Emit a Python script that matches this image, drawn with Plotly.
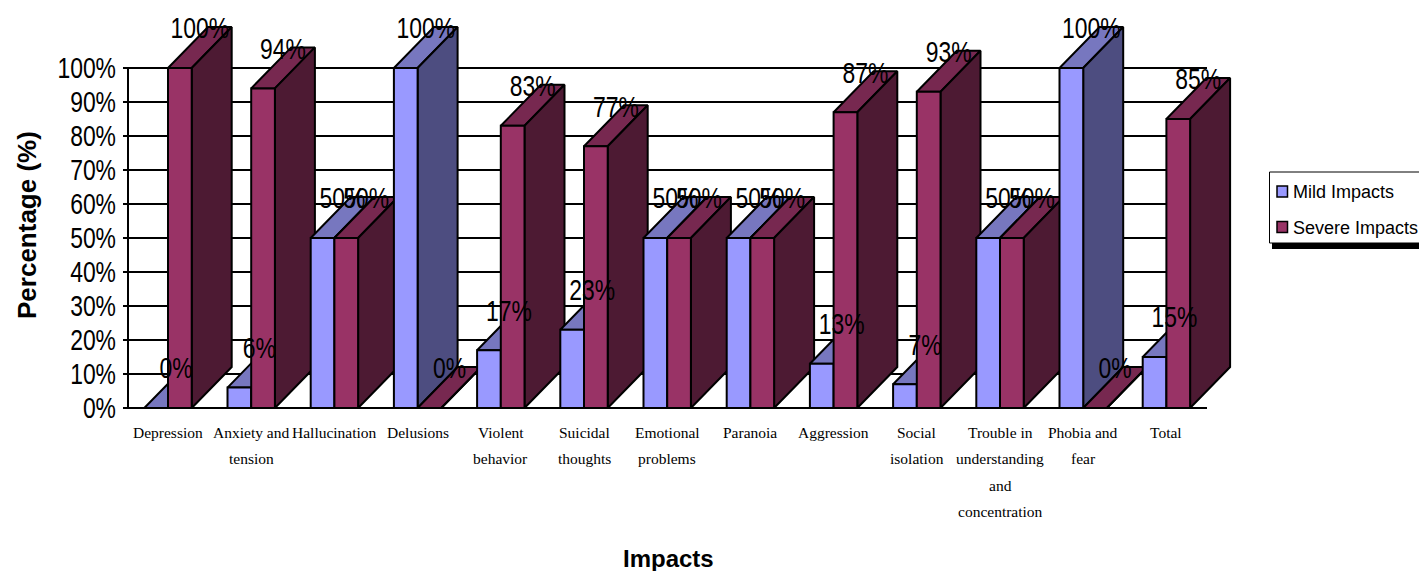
import plotly.graph_objects as go

categories = [
    "Depression", "Anxiety and\ntension", "Hallucination", "Delusions",
    "Violent\nbehavior", "Suicidal\nthoughts", "Emotional\nproblems",
    "Paranoia", "Aggression", "Social\nisolation",
    "Trouble in\nunderstanding\nand\nconcentration", "Phobia and\nfear", "Total",
]
mild_impacts = [0, 6, 50, 100, 17, 23, 50, 50, 13, 7, 50, 100, 15]
severe_impacts = [100, 94, 50, 0, 83, 77, 50, 50, 87, 93, 50, 0, 85]
y_ticks = [0, 10, 20, 30, 40, 50, 60, 70, 80, 90, 100]

# Page layout, in pixels
WIDTH, HEIGHT = 1419, 571
AXIS_LEFT, AXIS_RIGHT, Y100, Y0 = 128, 1207, 68, 408
AREA_LEFT, AREA_RIGHT, AREA_TOP, AREA_BOTTOM = 123, 1240, 0, 412
CATEGORY_PX = 83.2
FIRST_CENTRE_PX = 168
PX_PER_UNIT = (Y0 - Y100) / 100


def x_val(px):
    return (px - FIRST_CENTRE_PX) / CATEGORY_PX


def px_x(px):
    return (px - AREA_LEFT) / (AREA_RIGHT - AREA_LEFT)


def px_y(py):
    return (AREA_BOTTOM - py) / (AREA_BOTTOM - AREA_TOP)


# Extrusion and bar sizes, in axis units
BAR_W = 23.7 / CATEGORY_PX
DEPTH_X = 40 / CATEGORY_PX
DEPTH_Y = 41 / PX_PER_UNIT

SERIES = [
    dict(name="Mild Impacts", values=mild_impacts, offset=-1,
         front="#9999FF", top="#7777BF", side="#4D4D80"),
    dict(name="Severe Impacts", values=severe_impacts, offset=0,
         front="#993366", top="#772850", side="#4D1A33"),
]

EDGE = dict(color="black", width=2)


def face(xs, ys, colour, name):
    return go.Scatter(
        x=xs + xs[:1], y=ys + ys[:1], mode="lines", fill="toself", fillcolor=colour,
        line=EDGE, name=name, showlegend=False, hoverinfo="name",
    )


fig = go.Figure()

# Gridlines with their tick stubs, then the vertical axis line
grid_x, grid_y = [], []
for t in y_ticks:
    grid_x += [x_val(AREA_LEFT), x_val(AXIS_RIGHT), None]
    grid_y += [t, t, None]
fig.add_trace(go.Scatter(x=grid_x, y=grid_y, mode="lines", line=dict(color="black", width=2),
                         showlegend=False, hoverinfo="skip"))
fig.add_trace(go.Scatter(x=[x_val(AXIS_LEFT), x_val(AXIS_LEFT)], y=[0, 100], mode="lines",
                         line=dict(color="black", width=2), showlegend=False, hoverinfo="skip"))

# Painted left to right so nearer boxes overlap the ones before them
for i in range(len(categories)):
    for s in SERIES:
        v = s["values"][i]
        x0 = i + s["offset"] * BAR_W
        x1 = x0 + BAR_W
        fig.add_trace(face([x0, x1, x1 + DEPTH_X, x0 + DEPTH_X],
                           [v, v, v + DEPTH_Y, v + DEPTH_Y], s["top"], s["name"]))
        fig.add_trace(face([x1, x1 + DEPTH_X, x1 + DEPTH_X, x1],
                           [0, DEPTH_Y, v + DEPTH_Y, v], s["side"], s["name"]))
        fig.add_trace(face([x0, x1, x1, x0], [0, 0, v, v], s["front"], s["name"]))

# Value labels sit on top of every box
for s in SERIES:
    fig.add_trace(go.Scatter(
        x=[i + s["offset"] * BAR_W + BAR_W / 2 + DEPTH_X / 2 for i in range(len(categories))],
        y=[v + DEPTH_Y - 1.2 for v in s["values"]],
        mode="text", text=[f"{v}%" for v in s["values"]], textposition="middle center",
        textfont=dict(family="Liberation Sans", size=29, color="black"),
        showlegend=False, hoverinfo="skip",
    ))

annotations = []

# Category labels, one annotation per line for the wide line spacing
LINE_OFFSETS = [24, 50, 77, 103]
for i, label in enumerate(categories):
    for j, line in enumerate(label.split("\n")):
        annotations.append(dict(
            x=i, y=0, xref="x", yref="y", text=line, showarrow=False,
            xanchor="center", yanchor="middle", yshift=-LINE_OFFSETS[j],
            font=dict(family="Liberation Serif", size=15.5, color="black"),
        ))

annotations.append(dict(
    x=px_x(27), y=px_y(225), xref="paper", yref="paper", text="<b>Percentage (%)</b>",
    textangle=-90, showarrow=False, xanchor="center", yanchor="middle",
    font=dict(family="Liberation Sans", size=26, color="black"),
))
annotations.append(dict(
    x=px_x(668), y=px_y(558), xref="paper", yref="paper", text="<b>Impacts</b>",
    showarrow=False, xanchor="center", yanchor="middle",
    font=dict(family="Liberation Sans", size=24, color="black"),
))

# Key box with a drop shadow, running off the right edge of the page
shapes = [
    dict(type="rect", xref="paper", yref="paper", layer="above",
         x0=px_x(1272), x1=px_x(1440), y0=px_y(249), y1=px_y(176),
         fillcolor="black", line=dict(width=0)),
    dict(type="rect", xref="paper", yref="paper", layer="above",
         x0=px_x(1269.5), x1=px_x(1440), y0=px_y(243), y1=px_y(172),
         fillcolor="white", line=dict(color="black", width=1)),
]
for s, cy in zip(SERIES, [191.5, 227]):
    shapes.append(dict(
        type="rect", xref="paper", yref="paper", layer="above",
        x0=px_x(1277), x1=px_x(1287.5), y0=px_y(cy + 5.5), y1=px_y(cy - 5.5),
        fillcolor=s["front"], line=dict(color="black", width=1.5),
    ))
    annotations.append(dict(
        x=px_x(1291), y=px_y(cy + 0.5), xref="paper", yref="paper", text=s["name"],
        showarrow=False, xanchor="left", yanchor="middle",
        font=dict(family="Liberation Sans", size=18, color="black"),
    ))

fig.update_layout(
    width=WIDTH, height=HEIGHT, autosize=False,
    margin=dict(l=AREA_LEFT, r=WIDTH - AREA_RIGHT, t=AREA_TOP, b=HEIGHT - AREA_BOTTOM, pad=0),
    paper_bgcolor="white", plot_bgcolor="rgba(0,0,0,0)", showlegend=False,
    annotations=annotations, shapes=shapes,
)
fig.update_xaxes(
    range=[x_val(AREA_LEFT), x_val(AREA_RIGHT)],
    showgrid=False, zeroline=False, showticklabels=False, ticks="", showline=False,
)
fig.update_yaxes(
    range=[(Y0 - AREA_BOTTOM) / PX_PER_UNIT, (Y0 - AREA_TOP) / PX_PER_UNIT],
    tickvals=y_ticks, ticktext=[f"{t}%" for t in y_ticks],
    showgrid=False, zeroline=False, showline=False, ticks="",
    ticklabelstandoff=6,
    tickfont=dict(family="Liberation Sans", size=29, color="black"),
)

# Condense the Arial-style value and tick labels horizontally
CONDENSE = """
document.querySelectorAll('.ytick text, .textpoint text').forEach(function (el) {
  el.setAttribute('lengthAdjust', 'spacingAndGlyphs');
  el.setAttribute('textLength', el.getComputedTextLength() * 0.79);
});
"""

fig.write_html("out.html", config={"displayModeBar": False}, post_script=CONDENSE)
